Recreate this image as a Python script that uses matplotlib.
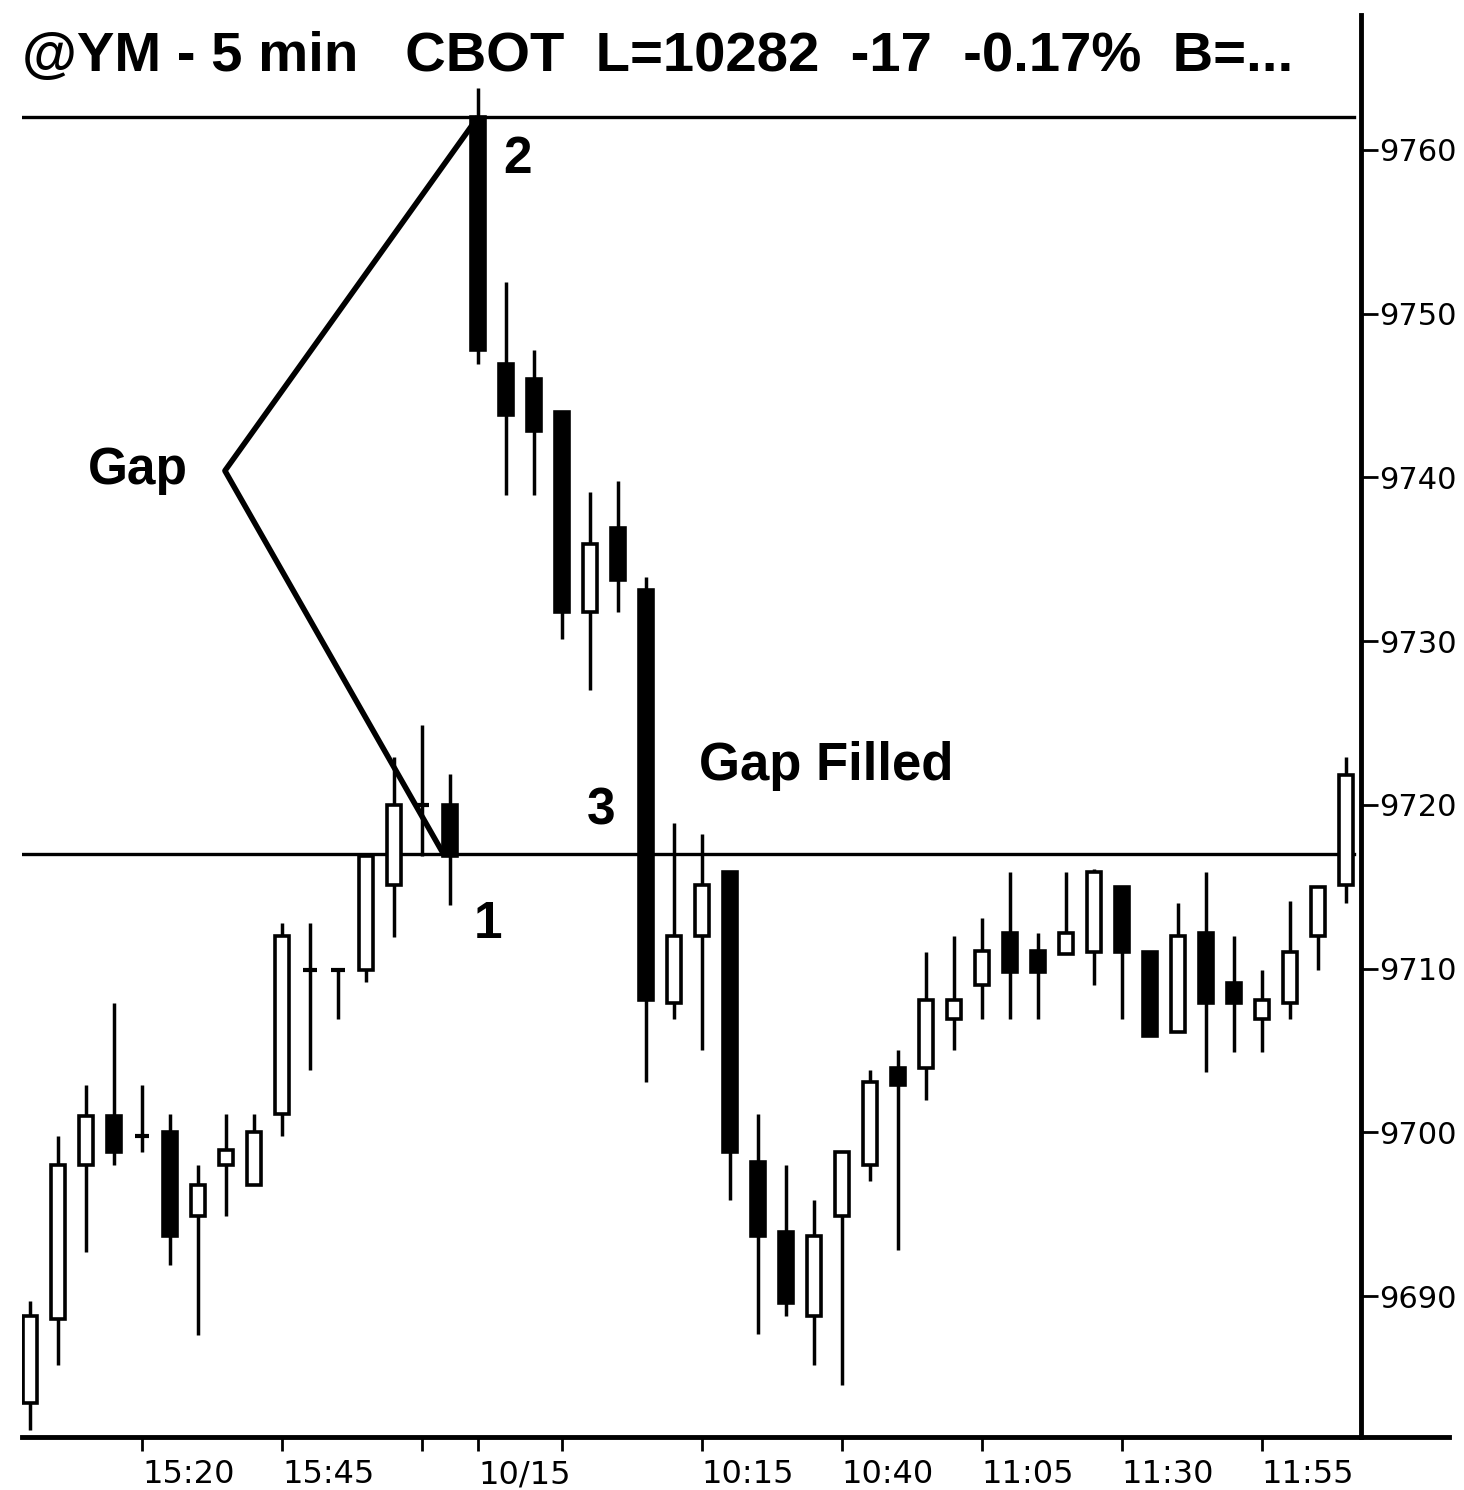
import numpy as np
import matplotlib
matplotlib.use("Agg")
import matplotlib.pyplot as plt

# 5 min candles, @YM (open, high, low, close)
opens = [9683.5, 9688.6, 9698.0, 9701.0, 9699.8, 9700.0, 9694.9, 9698.0, 9696.8, 9701.1,
         9709.9, 9709.9, 9709.9, 9715.1, 9720.0, 9720.0, 9762.0, 9746.9, 9746.0, 9744.0,
         9731.8, 9736.9, 9733.1, 9707.9, 9712.0, 9715.9, 9698.2, 9693.9, 9688.8, 9694.9,
         9698.0, 9703.9, 9703.9, 9706.9, 9709.0, 9712.2, 9711.1, 9710.9, 9711.0, 9715.0,
         9711.0, 9706.1, 9712.2, 9709.1, 9706.9, 9707.9, 9712.0, 9715.1]
highs = [9689.7, 9699.8, 9702.9, 9707.9, 9702.9, 9701.1, 9698.0, 9701.1, 9701.1, 9712.8,
         9712.8, 9709.9, 9716.9, 9722.9, 9724.9, 9721.9, 9763.8, 9751.9, 9747.8, 9744.0,
         9739.1, 9739.8, 9733.9, 9718.9, 9718.2, 9715.9, 9701.1, 9698.0, 9695.9, 9698.8,
         9703.8, 9705.0, 9711.0, 9712.0, 9713.1, 9715.9, 9712.2, 9715.9, 9716.1, 9715.0,
         9711.0, 9714.0, 9715.9, 9712.0, 9709.9, 9714.1, 9715.0, 9722.9]
lows = [9681.8, 9685.8, 9692.7, 9698.0, 9698.8, 9691.9, 9687.6, 9694.9, 9696.8, 9699.8,
        9703.8, 9706.9, 9709.2, 9711.9, 9716.9, 9713.9, 9746.9, 9738.9, 9738.9, 9730.1,
        9727.0, 9731.8, 9703.1, 9706.9, 9705.0, 9695.9, 9687.7, 9688.8, 9685.8, 9684.6,
        9697.0, 9692.8, 9702.0, 9705.0, 9706.9, 9706.9, 9706.9, 9710.9, 9709.0, 9706.9,
        9705.9, 9706.1, 9703.7, 9704.9, 9704.9, 9706.9, 9709.9, 9714.0]
closes = [9688.8, 9698.0, 9701.0, 9698.8, 9699.8, 9693.7, 9696.8, 9698.9, 9700.0, 9712.0,
          9709.9, 9709.9, 9716.9, 9720.0, 9720.0, 9716.9, 9747.8, 9743.8, 9742.8, 9731.8,
          9735.9, 9733.7, 9708.1, 9712.0, 9715.1, 9698.8, 9693.7, 9689.6, 9693.7, 9698.8,
          9703.1, 9702.9, 9708.1, 9708.1, 9711.1, 9709.8, 9709.8, 9712.2, 9715.9, 9711.0,
          9705.9, 9712.0, 9707.9, 9707.9, 9708.1, 9711.0, 9715.0, 9721.8]

# time axis: major tick every 5 bars, labels only where the chart shows them
tick_bars = [4, 9, 14, 16, 19, 24, 29, 34, 39, 44]
tick_labels = ["15:20", "15:45", "", "10/15", "", "10:15", "10:40", "11:05", "11:30", "11:55"]
price_ticks = [9690, 9700, 9710, 9720, 9730, 9740, 9750, 9760]

# gap levels and the zigzag drawn over it
gap_top = 9762
gap_bottom = 9717
zig_x = [16, 6.96, 14.8]
zig_y = [9762, 9740.4, 9716.9]

x = np.arange(len(opens))
o = np.array(opens)
c = np.array(closes)
up = c >= o

fig = plt.figure(figsize=(14.64, 14.90), dpi=100)
ax = fig.add_axes([0.015, 0.0356, 0.975, 0.954])

ax.set_xlim(-0.29, 50.7)
ax.set_ylim(9681.4, 9768.2)

# wicks
ax.vlines(x, lows, highs, color="black", lw=2.5, zorder=2)
# bodies
body_w = 0.52
h = np.abs(c - o)
bottom = np.minimum(o, c)
ax.bar(x[up], h[up], bottom=bottom[up], width=body_w, color="white",
       edgecolor="black", linewidth=2.6, zorder=3)
ax.bar(x[~up], h[~up], bottom=bottom[~up], width=body_w, color="black",
       edgecolor="black", linewidth=2.6, zorder=3)
# dojis
doji = h < 0.05
ax.hlines(c[doji], x[doji] - body_w / 2, x[doji] + body_w / 2, color="black", lw=3, zorder=3)

# horizontal gap lines
ax.axhline(gap_top, xmin=0, xmax=0.933, color="black", lw=2.4, zorder=1)
ax.axhline(gap_bottom, xmin=0, xmax=0.933, color="black", lw=2.4, zorder=1)
ax.plot(zig_x, zig_y, color="black", lw=4, zorder=4, solid_capstyle="butt")

bold = dict(family="Liberation Sans", weight="bold", color="black")
ax.text(2.07, 9740.4, "Gap", fontsize=37, ha="left", va="center", **bold)
ax.text(23.9, 9722.4, "Gap Filled", fontsize=38, ha="left", va="center", **bold)
ax.text(16.36, 9712.7, "1", fontsize=37, ha="center", va="center", **bold)
ax.text(17.4, 9759.4, "2", fontsize=37, ha="center", va="center", **bold)
ax.text(20.4, 9719.6, "3", fontsize=37, ha="center", va="center", **bold)

fig.text(0.015, 0.962, "@YM - 5 min   CBOT  L=10282  -17  -0.17%  B=...",
         fontsize=40.5, ha="left", va="center", **bold)

# axes styling
for s in ["left", "top"]:
    ax.spines[s].set_visible(False)
ax.spines["bottom"].set_linewidth(3.5)
ax.spines["right"].set_linewidth(3.5)
ax.spines["right"].set_position(("axes", 0.938))

ax.yaxis.tick_right()
ax.set_yticks(price_ticks)
ax.set_yticklabels([str(t) for t in price_ticks])
ax.tick_params(axis="y", direction="out", length=12, width=2, pad=1,
               labelsize=22, labelcolor="black")

ax.set_xticks(tick_bars)
ax.set_xticklabels(tick_labels)
ax.tick_params(axis="x", direction="out", length=10, width=2, pad=6,
               labelsize=23, labelcolor="black")
for lab in ax.get_xticklabels():
    lab.set_horizontalalignment("left")

fig.savefig("out.png", dpi=100, facecolor="white")
